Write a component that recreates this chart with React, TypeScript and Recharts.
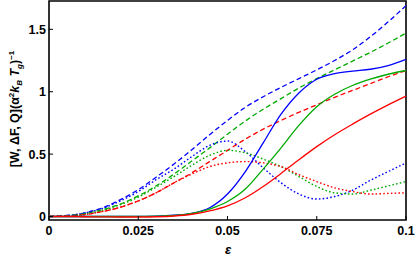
import React from 'react';
import { LineChart, Line, XAxis, YAxis, ReferenceArea } from 'recharts';

// epsilon grid
const eps = [0, 0.005, 0.01, 0.015, 0.02, 0.025, 0.03, 0.035, 0.04, 0.045, 0.05,
  0.055, 0.06, 0.065, 0.07, 0.075, 0.08, 0.085, 0.09, 0.095, 0.1];

// dashed
const wBlue = [0, 0.008, 0.03, 0.07, 0.135, 0.215, 0.315, 0.42, 0.535, 0.655, 0.77,
  0.875, 0.96, 1.035, 1.105, 1.175, 1.25, 1.335, 1.44, 1.56, 1.69];
const wGreen = [0, 0.006, 0.022, 0.055, 0.1, 0.165, 0.245, 0.34, 0.445, 0.55, 0.66,
  0.765, 0.86, 0.945, 1.03, 1.105, 1.175, 1.245, 1.315, 1.39, 1.47];
const wRed = [0, 0.004, 0.015, 0.04, 0.075, 0.125, 0.19, 0.27, 0.35, 0.44, 0.53,
  0.62, 0.7, 0.77, 0.835, 0.895, 0.955, 1.01, 1.065, 1.12, 1.17];

// solid
const fBlue = [0, 0, 0, 0, 0, 0.001, 0.003, 0.01, 0.025, 0.07, 0.18,
  0.36, 0.59, 0.82, 0.99, 1.1, 1.145, 1.165, 1.18, 1.21, 1.26];
const fGreen = [0, 0, 0, 0, 0, 0.001, 0.003, 0.008, 0.025, 0.06, 0.12,
  0.22, 0.38, 0.55, 0.73, 0.88, 0.98, 1.05, 1.1, 1.14, 1.17];
const fRed = [0, 0, -0.002, -0.003, -0.004, -0.004, -0.002, 0.004, 0.018, 0.045, 0.085,
  0.15, 0.24, 0.345, 0.455, 0.56, 0.655, 0.74, 0.82, 0.895, 0.965];

// dotted
const qBlue = [0, 0.007, 0.028, 0.065, 0.125, 0.2, 0.295, 0.38, 0.48, 0.57, 0.605,
  0.52, 0.39, 0.27, 0.18, 0.14, 0.16, 0.21, 0.29, 0.36, 0.43];
const qGreen = [0, 0.005, 0.02, 0.05, 0.095, 0.155, 0.235, 0.32, 0.41, 0.49, 0.53,
  0.51, 0.46, 0.4, 0.32, 0.24, 0.19, 0.18, 0.21, 0.245, 0.28];
const qRed = [0, 0.004, 0.015, 0.04, 0.075, 0.125, 0.19, 0.27, 0.34, 0.4, 0.43,
  0.44, 0.43, 0.4, 0.335, 0.28, 0.23, 0.2, 0.18, 0.185, 0.19];

const xTicks = [0, 0.025, 0.05, 0.075, 0.1];
const xTickLabels = ['0', '0.025', '0.05', '0.075', '0.1'];
const yTicks = [0, 0.5, 1, 1.5];
const yTickLabels = ['0', '0.5', '1', '1.5'];

const BLUE = '#0000ff';
const GREEN = '#00aa00';
const RED = '#ff0000';

const data = eps.map((e, i) => ({
  eps: e,
  wBlue: wBlue[i], wGreen: wGreen[i], wRed: wRed[i],
  fBlue: fBlue[i], fGreen: fGreen[i], fRed: fRed[i],
  qBlue: qBlue[i], qGreen: qGreen[i], qRed: qRed[i],
}));

const font = '"Liberation Sans", Arial, sans-serif';
const Y_MIN = -0.028;
const Y_MAX = 1.727;

function XTick(props: any) {
  const { x, y, payload } = props;
  const i = xTicks.indexOf(payload.value);
  return (
    <g>
      <line x1={x} x2={x} y1={y} y2={y - 4} stroke="#000" strokeWidth={1} />
      <text x={x} y={y + 15} textAnchor="middle" fontFamily={font} fontWeight="bold" fontSize={12.5} fill="#000">
        {i >= 0 ? xTickLabels[i] : payload.value}
      </text>
    </g>
  );
}

function YTick(props: any) {
  const { x, y, payload } = props;
  const i = yTicks.indexOf(payload.value);
  return (
    <g>
      <line x1={x} x2={x + 4} y1={y} y2={y} stroke="#000" strokeWidth={1} />
      <text x={x - 3} y={y + 4.5} textAnchor="end" fontFamily={font} fontWeight="bold" fontSize={12.5} fill="#000">
        {i >= 0 ? yTickLabels[i] : payload.value}
      </text>
    </g>
  );
}

function YLabel() {
  return (
    <text transform="translate(19,109) rotate(-90)" textAnchor="middle" fontFamily={font} fontWeight="bold" fontSize={12.5} fill="#000">
      [W, ΔF, Q](α
      <tspan dy={-5} fontSize={8}>2</tspan>
      <tspan dy={5} fontStyle="italic">k</tspan>
      <tspan dy={3} fontSize={8} fontStyle="italic">B</tspan>
      <tspan dy={-3} fontStyle="italic"> T</tspan>
      <tspan dy={3} fontSize={8} fontStyle="italic">g</tspan>
      <tspan dy={-3}>)</tspan>
      <tspan dy={-5} fontSize={8}>−1</tspan>
    </text>
  );
}

function XLabel() {
  return (
    <text x={228} y={254} textAnchor="middle" fontFamily={font} fontWeight="bold" fontStyle="italic" fontSize={13} fill="#000">
      ε
    </text>
  );
}

export default function App() {
  const dashed = '5 3';
  const dotted = '1.6 2.2';
  return (
    <div style={{ position: 'absolute', left: 0, top: 0, background: '#fff' }}>
      <LineChart width={415} height={261} data={data} margin={{ top: 1, right: 9, left: 0, bottom: 0 }}>
        <XAxis
          dataKey="eps"
          type="number"
          domain={[0, 0.1]}
          ticks={xTicks}
          tick={<XTick />}
          tickSize={0}
          tickMargin={0}
          tickLine={false}
          axisLine={false}
          height={41}
          interval={0}
          label={{ content: () => <XLabel /> }}
        />
        <YAxis
          type="number"
          domain={[Y_MIN, Y_MAX]}
          allowDataOverflow
          ticks={yTicks}
          tick={<YTick />}
          tickSize={0}
          tickMargin={0}
          tickLine={false}
          axisLine={false}
          width={49}
          interval={0}
          label={{ content: () => <YLabel /> }}
        />
        <Line type="monotone" dataKey="wBlue" stroke={BLUE} strokeWidth={1.3} strokeDasharray={dashed} dot={false} isAnimationActive={false} />
        <Line type="monotone" dataKey="wGreen" stroke={GREEN} strokeWidth={1.3} strokeDasharray={dashed} dot={false} isAnimationActive={false} />
        <Line type="monotone" dataKey="wRed" stroke={RED} strokeWidth={1.3} strokeDasharray={dashed} dot={false} isAnimationActive={false} />
        <Line type="monotone" dataKey="qBlue" stroke={BLUE} strokeWidth={1.4} strokeDasharray={dotted} dot={false} isAnimationActive={false} />
        <Line type="monotone" dataKey="qGreen" stroke={GREEN} strokeWidth={1.4} strokeDasharray={dotted} dot={false} isAnimationActive={false} />
        <Line type="monotone" dataKey="qRed" stroke={RED} strokeWidth={1.4} strokeDasharray={dotted} dot={false} isAnimationActive={false} />
        <Line type="monotone" dataKey="fBlue" stroke={BLUE} strokeWidth={1.3} dot={false} isAnimationActive={false} />
        <Line type="monotone" dataKey="fGreen" stroke={GREEN} strokeWidth={1.3} dot={false} isAnimationActive={false} />
        <Line type="monotone" dataKey="fRed" stroke={RED} strokeWidth={1.3} dot={false} isAnimationActive={false} />
        <ReferenceArea x1={0} x2={0.1} y1={Y_MIN} y2={Y_MAX} fill="none" stroke="#000" strokeWidth={1.6} ifOverflow="visible" />
      </LineChart>
    </div>
  );
}
